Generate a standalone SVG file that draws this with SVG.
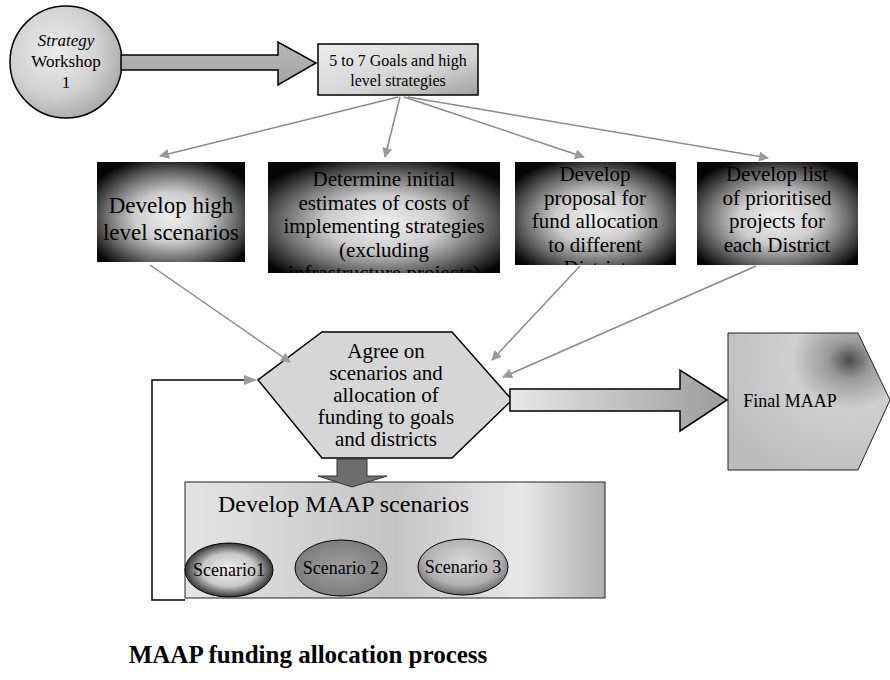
<svg xmlns="http://www.w3.org/2000/svg" width="890" height="680" viewBox="0 0 890 680">
<defs>
<style>
text{font-family:"Liberation Serif","Times New Roman",serif;fill:#000;}
.t16{font-size:16px;}
.t17{font-size:17px;}
.t18{font-size:18px;}
.t21{font-size:21px;}
.t23{font-size:23px;}
.thin{stroke:#8a8a8a;stroke-width:1.5;fill:none;marker-end:url(#ah);}
.outline{stroke:#000;stroke-width:1.5;}
</style>
<marker id="ah" viewBox="0 0 10 10" refX="9" refY="5" markerWidth="10" markerHeight="10" orient="auto" markerUnits="userSpaceOnUse">
<path d="M0,0 L10,5 L0,10 z" fill="#9a9a9a"/>
</marker>
<clipPath id="c2"><rect x="268" y="162" width="232" height="111"/></clipPath>
<clipPath id="c3"><rect x="515" y="162" width="161" height="103"/></clipPath>
<clipPath id="c4"><rect x="697" y="162" width="161" height="103"/></clipPath>
<radialGradient id="gCircle" cx="40%" cy="40%" r="65%">
<stop offset="0" stop-color="#ececec"/><stop offset="0.6" stop-color="#d2d2d2"/><stop offset="1" stop-color="#a8a8a8"/>
</radialGradient>
<linearGradient id="gGoals" x1="0" y1="0" x2="1" y2="1">
<stop offset="0" stop-color="#ececec"/><stop offset="0.6" stop-color="#d4d4d4"/><stop offset="1" stop-color="#a0a0a0"/>
</linearGradient>
<radialGradient id="gDark" cx="50%" cy="55%" r="62%">
<stop offset="0" stop-color="#f0f0f0"/><stop offset="0.4" stop-color="#cccccc"/><stop offset="0.7" stop-color="#6e6e6e"/><stop offset="1" stop-color="#050505"/>
</radialGradient>
<linearGradient id="gBigArrow" x1="0" y1="0" x2="1" y2="0">
<stop offset="0" stop-color="#e8e8e8"/><stop offset="1" stop-color="#9c9c9c"/>
</linearGradient>
<linearGradient id="gArrow1" x1="0" y1="0" x2="0" y2="1">
<stop offset="0" stop-color="#b8b8b8"/><stop offset="1" stop-color="#a4a4a4"/>
</linearGradient>
<radialGradient id="gFinal" cx="75%" cy="20%" r="90%">
<stop offset="0" stop-color="#4a4a4a"/><stop offset="0.15" stop-color="#9a9a9a"/><stop offset="0.4" stop-color="#d0d0d0"/><stop offset="1" stop-color="#bcbcbc"/>
</radialGradient>
<linearGradient id="gMaap" x1="0" y1="0" x2="1" y2="0">
<stop offset="0" stop-color="#e4e4e4"/><stop offset="0.5" stop-color="#c4c4c4"/><stop offset="0.8" stop-color="#e8e8e8"/><stop offset="1" stop-color="#b0b0b0"/>
</linearGradient>
<radialGradient id="gSc1" cx="50%" cy="50%" r="55%">
<stop offset="0" stop-color="#f2f2f2"/><stop offset="0.55" stop-color="#c8c8c8"/><stop offset="1" stop-color="#111"/>
</radialGradient>
<radialGradient id="gSc2" cx="50%" cy="50%" r="55%">
<stop offset="0" stop-color="#a0a0a0"/><stop offset="1" stop-color="#7a7a7a"/>
</radialGradient>
<radialGradient id="gSc3" cx="50%" cy="40%" r="60%">
<stop offset="0" stop-color="#d8d8d8"/><stop offset="0.7" stop-color="#b0b0b0"/><stop offset="1" stop-color="#6a6a6a"/>
</radialGradient>
</defs>
<rect width="890" height="680" fill="#fff"/>

<g id="workshop">
<circle cx="66" cy="62" r="56" fill="url(#gCircle)" class="outline"/>
<text class="t17" x="66" y="46" text-anchor="middle" font-style="italic">Strategy</text>
<text class="t17" x="66" y="67" text-anchor="middle">Workshop</text>
<text class="t17" x="66" y="88" text-anchor="middle">1</text>
</g>

<g id="goals">
<rect x="318" y="44" width="160" height="51" fill="url(#gGoals)" class="outline"/>
<text class="t16" x="398" y="66" text-anchor="middle">5 to 7 Goals and high</text>
<text class="t16" x="398" y="86" text-anchor="middle">level strategies</text>
</g>

<g id="box1">
<rect x="97" y="162" width="148" height="100" fill="url(#gDark)"/>
<text class="t23" x="171" y="213" text-anchor="middle">Develop high</text>
<text class="t23" x="171" y="240" text-anchor="middle">level scenarios</text>
</g>

<g id="box2">
<rect x="268" y="162" width="232" height="111" fill="url(#gDark)"/>
<g clip-path="url(#c2)">
<text class="t21" x="384" y="186" text-anchor="middle">Determine initial</text>
<text class="t21" x="384" y="209.5" text-anchor="middle">estimates of costs of</text>
<text class="t21" x="384" y="233" text-anchor="middle">implementing strategies</text>
<text class="t21" x="384" y="256.5" text-anchor="middle">(excluding</text>
<text class="t21" x="384" y="280" text-anchor="middle">infrastructure projects)</text>
</g>
</g>

<g id="box3">
<rect x="515" y="162" width="161" height="103" fill="url(#gDark)"/>
<g clip-path="url(#c3)">
<text class="t21" x="595" y="181" text-anchor="middle">Develop</text>
<text class="t21" x="595" y="204.5" text-anchor="middle">proposal for</text>
<text class="t21" x="595" y="228" text-anchor="middle">fund allocation</text>
<text class="t21" x="595" y="251.5" text-anchor="middle">to different</text>
<text class="t21" x="595" y="275" text-anchor="middle">District</text>
</g>
</g>

<g id="box4">
<rect x="697" y="162" width="161" height="103" fill="url(#gDark)"/>
<g clip-path="url(#c4)">
<text class="t21" x="777" y="181" text-anchor="middle">Develop list</text>
<text class="t21" x="777" y="204.5" text-anchor="middle">of prioritised</text>
<text class="t21" x="777" y="228" text-anchor="middle">projects for</text>
<text class="t21" x="777" y="251.5" text-anchor="middle">each District</text>
</g>
</g>

<g id="agree">
<polygon points="322,332 452,332 512,400 452,458 322,458 258,380" fill="#d6d6d6" class="outline"/>
<text class="t21" x="386" y="358" text-anchor="middle">Agree on</text>
<text class="t21" x="386" y="380" text-anchor="middle">scenarios and</text>
<text class="t21" x="386" y="402" text-anchor="middle">allocation of</text>
<text class="t21" x="386" y="424" text-anchor="middle">funding to goals</text>
<text class="t21" x="386" y="446" text-anchor="middle">and districts</text>
</g>

<g id="final">
<polygon points="728,333 858,333 890,400 858,470 728,470" fill="url(#gFinal)" stroke="#222" stroke-width="1"/>
<text class="t18" x="790" y="407" text-anchor="middle">Final MAAP</text>
</g>

<g id="scenarios">
<rect x="185" y="482" width="420" height="116" fill="url(#gMaap)" stroke="#222" stroke-width="1"/>
<text x="218" y="512" font-size="24">Develop MAAP scenarios</text>
<g id="sc1">
<ellipse cx="229" cy="570" rx="44" ry="27" fill="url(#gSc1)" stroke="#000" stroke-width="1"/>
<text class="t18" x="229" y="576" text-anchor="middle">Scenario1</text>
</g>
<g id="sc2">
<ellipse cx="341" cy="568" rx="46" ry="28" fill="url(#gSc2)" stroke="#000" stroke-width="1"/>
<text class="t18" x="341" y="574" text-anchor="middle">Scenario 2</text>
</g>
<g id="sc3">
<ellipse cx="463" cy="567" rx="45" ry="28" fill="url(#gSc3)" stroke="#000" stroke-width="1"/>
<text class="t18" x="463" y="573" text-anchor="middle">Scenario 3</text>
</g>
</g>

<g id="caption">
<text x="308" y="663" text-anchor="middle" font-size="25" font-weight="bold">MAAP funding allocation process</text>
</g>

<g id="connectors">
<polygon points="121,55 278,55 278,42 316,63 278,85 278,70 121,70" fill="url(#gArrow1)" class="outline"/>
<path class="thin" d="M398,97 L160,156"/>
<path class="thin" d="M400,97 L385,157"/>
<path class="thin" d="M404,97 L584,157"/>
<path class="thin" d="M408,97 L768,158"/>
<path class="thin" d="M150,265 L290,362"/>
<path class="thin" d="M580,266 L492,360"/>
<path class="thin" d="M756,266 L503,377"/>
<path d="M185,600 L152,600 L152,380 L252,380" stroke="#000" stroke-width="1.5" fill="none"/>
<path d="M244,375 L257,380 L244,385 z" fill="#9a9a9a"/>
<polygon points="510,389 680,389 680,370 727,400 680,431 680,411 510,411" fill="url(#gBigArrow)" class="outline"/>
<polygon points="337,459 367,459 367,476 387,476 352,487 318,476 337,476" fill="#6e6e6e" stroke="#333" stroke-width="1"/>
</g>
</svg>
